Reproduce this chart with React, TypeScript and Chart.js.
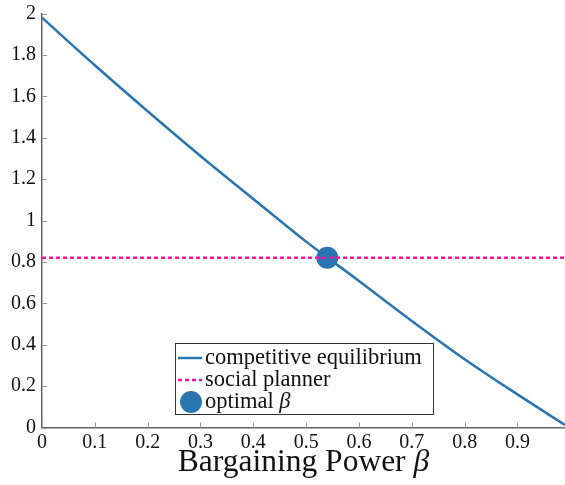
import React, { useEffect, useRef } from "react";
import { Chart, registerables } from "chart.js";

Chart.register(...registerables);

// ---- data ----
const beta = [0, 0.1, 0.2, 0.3, 0.4, 0.5, 0.6, 0.7, 0.8, 0.9, 0.99];
const competitive = [1.98, 1.75, 1.528, 1.312, 1.104, 0.898, 0.708, 0.515, 0.33, 0.16, 0.012];
const plannerValue = 0.82;
const optimalBeta = 0.54;
const optimalValue = 0.82;

const xTicks = [0, 0.1, 0.2, 0.3, 0.4, 0.5, 0.6, 0.7, 0.8, 0.9];
const xTickLabels = ["0", "0.1", "0.2", "0.3", "0.4", "0.5", "0.6", "0.7", "0.8", "0.9"];
const yTicks = [0, 0.2, 0.4, 0.6, 0.8, 1, 1.2, 1.4, 1.6, 1.8, 2];
const yTickLabels = ["0", "0.2", "0.4", "0.6", "0.8", "1", "1.2", "1.4", "1.6", "1.8", "2"];

const legendLabels = ["competitive equilibrium", "social planner", "optimal "];
const greekBeta = "β";
const xTitleText = "Bargaining Power ";

const BLUE = "#2a74b0";
const PINK = "#f7149c";
const FONT = "'Liberation Serif', serif";

const overlay = {
  id: "overlay",
  afterDraw(chart: any) {
    const ctx = chart.ctx as CanvasRenderingContext2D;
    const area = chart.chartArea;
    const xs = chart.scales.x;
    const ys = chart.scales.y;
    ctx.save();
    // inward tick marks
    ctx.strokeStyle = "#9a9a9a";
    ctx.lineWidth = 1;
    xTicks.forEach((v) => {
      const px = Math.round(xs.getPixelForValue(v)) + 0.5;
      ctx.beginPath();
      ctx.moveTo(px, area.bottom);
      ctx.lineTo(px, area.bottom - 5);
      ctx.stroke();
    });
    yTicks.forEach((v) => {
      const py = Math.round(ys.getPixelForValue(v)) + 0.5;
      ctx.beginPath();
      ctx.moveTo(area.left, py);
      ctx.lineTo(area.left + 5, py);
      ctx.stroke();
    });

    // x axis title with italic beta
    ctx.fillStyle = "#111";
    ctx.textBaseline = "alphabetic";
    const titleFont = `31.5px ${FONT}`;
    const titleItalic = `italic 31.5px ${FONT}`;
    ctx.font = titleFont;
    const w1 = ctx.measureText(xTitleText).width;
    ctx.font = titleItalic;
    const w2 = ctx.measureText(greekBeta).width;
    const cx = (area.left + area.right) / 2;
    const tx = cx - (w1 + w2) / 2;
    const ty = 471;
    ctx.font = titleFont;
    ctx.textAlign = "left";
    ctx.fillText(xTitleText, tx, ty);
    ctx.font = titleItalic;
    ctx.fillText(greekBeta, tx + w1, ty);

    // legend box
    const bx = 175.5, by = 343.5, bw = 258, bh = 71;
    ctx.fillStyle = "#fff";
    ctx.fillRect(bx, by, bw, bh);
    ctx.strokeStyle = "#333";
    ctx.lineWidth = 1;
    ctx.strokeRect(bx, by, bw, bh);

    const rows = [358, 380, 402];
    const sx0 = 178, sx1 = 202, textX = 205;
    ctx.strokeStyle = BLUE;
    ctx.lineWidth = 2.5;
    ctx.setLineDash([]);
    ctx.beginPath();
    ctx.moveTo(sx0, rows[0]);
    ctx.lineTo(sx1, rows[0]);
    ctx.stroke();
    ctx.strokeStyle = PINK;
    ctx.setLineDash([4, 3]);
    ctx.beginPath();
    ctx.moveTo(sx0, rows[1]);
    ctx.lineTo(sx1, rows[1]);
    ctx.stroke();
    ctx.setLineDash([]);
    ctx.fillStyle = BLUE;
    ctx.beginPath();
    ctx.arc(191, rows[2], 11, 0, Math.PI * 2);
    ctx.fill();

    ctx.fillStyle = "#111";
    ctx.textBaseline = "middle";
    ctx.font = `22.5px ${FONT}`;
    ctx.fillText(legendLabels[0], textX, rows[0]);
    ctx.fillText(legendLabels[1], textX, rows[1]);
    ctx.fillText(legendLabels[2], textX, rows[2]);
    const w3 = ctx.measureText(legendLabels[2]).width;
    ctx.font = `italic 22.5px ${FONT}`;
    ctx.fillText(greekBeta, textX + w3, rows[2]);
    ctx.restore();
  },
};

export default function App() {
  const ref = useRef<HTMLCanvasElement | null>(null);
  useEffect(() => {
    if (!ref.current) return;
    const chart = new Chart(ref.current, {
      type: "line",
      data: {
        datasets: [
          {
            label: legendLabels[0],
            data: beta.map((b, i) => ({ x: b, y: competitive[i] })),
            borderColor: BLUE,
            borderWidth: 2.5,
            pointRadius: 0,
            cubicInterpolationMode: "monotone",
            fill: false,
          },
          {
            label: legendLabels[1],
            data: [
              { x: beta[0], y: plannerValue },
              { x: beta[beta.length - 1], y: plannerValue },
            ],
            borderColor: PINK,
            borderWidth: 2.5,
            borderDash: [4, 3],
            pointRadius: 0,
            fill: false,
          },
          {
            type: "scatter",
            label: legendLabels[2],
            data: [{ x: optimalBeta, y: optimalValue }],
            backgroundColor: BLUE,
            borderColor: BLUE,
            pointRadius: 11,
            borderWidth: 0,
          } as any,
        ],
      },
      options: {
        animation: false,
        responsive: false,
        events: [],
        layout: { autoPadding: false, padding: { top: 13.5, left: 0, right: 0, bottom: 0 } },
        plugins: { legend: { display: false }, tooltip: { enabled: false } },
        scales: {
          x: {
            type: "linear",
            min: 0,
            max: 0.99,
            grid: { display: false, drawTicks: false },
            border: { display: true, color: "#666", width: 1.5 },
            afterBuildTicks: (s: any) => {
              s.ticks = xTicks.map((v) => ({ value: v }));
            },
            afterFit: (s: any) => {
              s.height = 57.5;
              s.paddingLeft = 0;
              s.paddingRight = 0;
            },
            ticks: {
              autoSkip: false,
              maxRotation: 0,
              padding: 3,
              color: "#111",
              font: { family: FONT, size: 20 },
              callback: (v: any) => {
                const i = xTicks.indexOf(Number(v));
                return i >= 0 ? xTickLabels[i] : "";
              },
            },
          },
          y: {
            type: "linear",
            min: 0,
            max: 2,
            grid: { display: false, drawTicks: false },
            border: { display: true, color: "#666", width: 1.5 },
            afterBuildTicks: (s: any) => {
              s.ticks = yTicks.map((v) => ({ value: v }));
            },
            afterFit: (s: any) => {
              s.width = 42;
              s.paddingTop = 0;
              s.paddingBottom = 0;
            },
            ticks: {
              autoSkip: false,
              padding: 6,
              color: "#111",
              font: { family: FONT, size: 20 },
              callback: (v: any) => {
                const i = yTicks.findIndex((t) => Math.abs(t - Number(v)) < 1e-9);
                return i >= 0 ? yTickLabels[i] : "";
              },
            },
          },
        },
      },
      plugins: [overlay],
    } as any);
    return () => chart.destroy();
  }, []);
  return (
    <div style={{ position: "fixed", left: 0, top: 0, width: 565, height: 485, background: "#fff" }}>
      <canvas ref={ref} width={565} height={485} />
    </div>
  );
}
